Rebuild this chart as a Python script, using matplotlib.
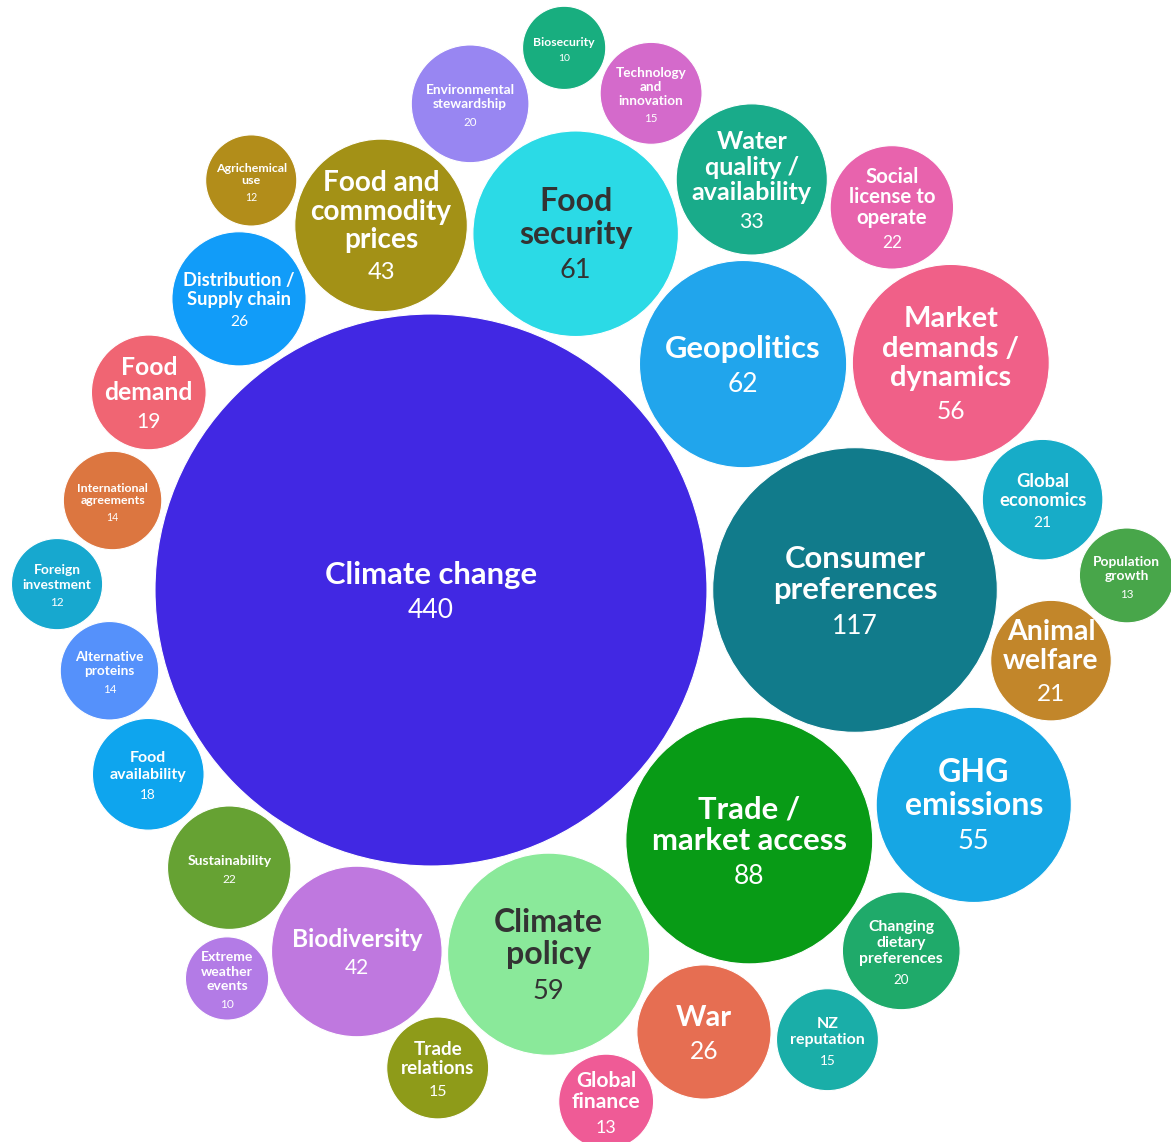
import numpy as np
import matplotlib
matplotlib.use("Agg")
import matplotlib.pyplot as plt
from matplotlib.patches import Circle

# ---------------- data ----------------
labels = [
    "Climate change", "Consumer\npreferences", "Trade /\nmarket access", "Geopolitics",
    "Food\nsecurity", "Climate\npolicy", "Market\ndemands /\ndynamics", "GHG\nemissions",
    "Food and\ncommodity\nprices", "Biodiversity", "Water\nquality /\navailability", "War",
    "Distribution /\nSupply chain", "Social\nlicense to\noperate", "Sustainability",
    "Global\neconomics", "Animal\nwelfare", "Environmental\nstewardship",
    "Changing\ndietary\npreferences", "Food\ndemand", "Food\navailability", "NZ\nreputation",
    "Technology\nand\ninnovation", "Trade\nrelations", "International\nagreements",
    "Alternative\nproteins", "Global\nfinance", "Population\ngrowth", "Agrichemical\nuse",
    "Foreign\ninvestment", "Biosecurity", "Extreme\nweather\nevents",
]
values = [440, 117, 88, 62, 61, 59, 56, 55, 43, 42, 33, 26, 26, 22, 22, 21, 21, 20, 20,
          19, 18, 15, 15, 15, 14, 14, 13, 13, 12, 12, 10, 10]

# ---------------- styles ----------------
colors = [
    "#4128E3", "#117B8B", "#089B16", "#21A5EC", "#2BDAE6", "#8AE99A", "#F06088", "#16A6E4",
    "#A39116", "#BF78DF", "#19AB8A", "#E66E52", "#119CF9", "#E863AD", "#66A233", "#17ACC8",
    "#C2862A", "#9886F2", "#1FAA6A", "#F06573", "#0EA5EE", "#1AAEA8", "#D46ACB", "#8E9B19",
    "#DC7640", "#5591FB", "#EF5B96", "#48A64A", "#B28D1A", "#17A8CF", "#18AE7F", "#B37BE6",
]
dark_text = {"Food\nsecurity", "Climate\npolicy"}
label_px = [31, 31, 31, 31, 32, 32, 29, 32, 28, 24.5, 25, 29, 18.4, 20.4, 14, 18.4, 28.5,
            13.6, 15.7, 24.7, 16, 16, 13.5, 18.9, 12.4, 13.6, 21, 13.7, 12.4, 13.8, 12.2, 14]

# ---------------- layout (packing hints) ----------------
W, H, DPI = 1171, 1142, 100
anchor = (431.0, 590.0)          # centre of the largest bubble
r_max = 276.0                    # radius of the largest bubble (px)
gap = 5.5
angles_deg = [0, 0, 38.2, -35.9, -67.9, 72.1, -23.6, 21.6, -97.8, 101.6, -52.0, 58.3,
              -123.4, -39.7, 126.0, -8.4, 6.5, -85.4, 37.5, -145.0, 146.9, 48.6, -66.1,
              89.2, -164.3, 165.9, 71.1, -1.2, -113.7, -179.1, -76.2, 117.7]

radii = r_max * np.sqrt(np.array(values, float) / max(values))

centers = [anchor]
for i in range(1, len(values)):
    th = np.deg2rad(angles_deg[i])
    ux, uy = np.cos(th), np.sin(th)
    d = 0.0
    while True:
        px, py = anchor[0] + d * ux, anchor[1] + d * uy
        ok = True
        for j, (cx, cy) in enumerate(centers):
            if np.hypot(px - cx, py - cy) < radii[i] + radii[j] + gap:
                ok = False
                break
        if ok:
            break
        d += 0.25
    centers.append((px, py))

plt.rcParams["font.family"] = ["Lato", "DejaVu Sans"]
fig = plt.figure(figsize=(W / DPI, H / DPI), dpi=DPI)
ax = fig.add_axes([0, 0, 1, 1])
ax.set_xlim(0, W)
ax.set_ylim(H, 0)
ax.axis("off")

px2pt = 72.0 / DPI
for lab, val, col, (cx, cy), r, fpx in zip(labels, values, colors, centers, radii, label_px):
    ax.add_patch(Circle((cx, cy), r, facecolor=col, edgecolor="white", lw=0.8, zorder=1))
    tc = "#333333" if lab in dark_text else "white"
    lines = lab.split("\n")
    lh = fpx + 0.5
    nh = fpx + 4.5
    total = lh * (len(lines) - 1) + nh
    y0 = cy - total / 2 + 2.5
    for k, ln in enumerate(lines):
        ax.text(cx, y0 + k * lh, ln, ha="center", va="center", color=tc,
                fontsize=fpx * px2pt, fontweight="bold", zorder=3)
    ax.text(cx, y0 + lh * (len(lines) - 1) + nh, str(val), ha="center", va="center",
            color=tc, fontsize=fpx * 0.85 * px2pt, fontweight="normal", zorder=3)

fig.savefig("out.png", dpi=DPI, facecolor="white")
